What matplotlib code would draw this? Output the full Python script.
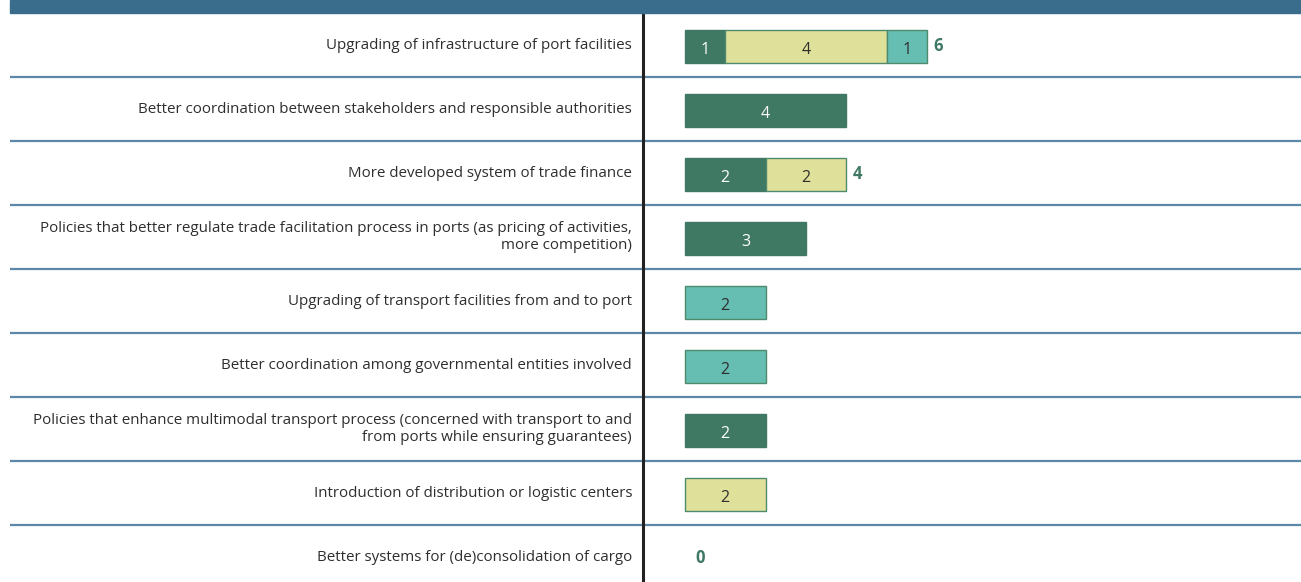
import matplotlib.pyplot as plt
import matplotlib.transforms as mtransforms
import numpy as np

plt.rcParams['font.family'] = ['Open Sans', 'DejaVu Sans']

categories = [
    "Upgrading of infrastructure of port facilities",
    "Better coordination between stakeholders and responsible authorities",
    "More developed system of trade finance",
    "Policies that better regulate trade facilitation process in ports (as pricing of activities,\nmore competition)",
    "Upgrading of transport facilities from and to port",
    "Better coordination among governmental entities involved",
    "Policies that enhance multimodal transport process (concerned with transport to and\nfrom ports while ensuring guarantees)",
    "Introduction of distribution or logistic centers",
    "Better systems for (de)consolidation of cargo",
]
dark = [1, 4, 2, 3, 0, 0, 2, 0, 0]
light = [4, 0, 2, 0, 0, 0, 0, 2, 0]
teal = [1, 0, 0, 0, 2, 2, 0, 0, 0]

series = [
    (dark, '#3f7863', '#3f7863', 'white'),
    (light, '#dfe09a', '#4f8a6e', '#2e2e2e'),
    (teal, '#66bdb2', '#4f8a6e', '#2e2e2e'),
]

W, H = 1301, 582
fig = plt.figure(figsize=(W / 100, H / 100), dpi=100)
ax = fig.add_axes([643 / W, 0, 1 - 643 / W, (H - 13) / H])

y = np.arange(len(categories)) + 0.025
left = np.zeros(len(categories))
for vals, face, edge, tc in series:
    vals = np.array(vals, dtype=float)
    lw = np.where(vals > 0, 1.0, 0.0)
    bars = ax.barh(y, vals, left=left, height=0.52, color=face,
                   edgecolor=edge, linewidth=lw)
    for b, v in zip(bars, vals):
        if v > 0:
            ax.text(b.get_x() + b.get_width() / 2, b.get_y() + b.get_height() / 2 + 0.06,
                    f"{v:g}", ha='center', va='center', color=tc, fontsize=11.5)
    left += vals

# totals for stacked rows and empty rows
counts = (np.array(dark) > 0).astype(int) + (np.array(light) > 0) + (np.array(teal) > 0)
for i, tot in enumerate(left):
    if counts[i] != 1:
        off = 0.15 if tot > 0 else 0.25
        ax.text(tot + off, i + 0.02, f"{tot:g}", ha='left', va='center',
                color='#3f7863', fontsize=12, fontweight='bold')

ax.set_xlim(-1.04, 15.28)
ax.set_ylim(8.39, -0.5)
ax.axis('off')

# category labels right-aligned left of the axis line
lab_tr = mtransforms.blended_transform_factory(fig.transFigure, ax.transData)
for i, c in enumerate(categories):
    ax.text(632 / W, i, c, transform=lab_tr, ha='right', va='center',
            fontsize=10.9, color='#2e2e2e', linespacing=1.15)

# row separators across the full width
for i in range(len(categories) - 1):
    ax.plot([10 / W, 1], [i + 0.5, i + 0.5], transform=lab_tr, color='#5b87a8',
            linewidth=1.6, clip_on=False, solid_capstyle='butt')

# vertical axis line
ax.axvline(-1.04, color='#222222', linewidth=2.2, clip_on=False)

# header band
fig.patches.append(plt.Rectangle((10 / W, (H - 13) / H), 1 - 10 / W, 13 / H,
                                 transform=fig.transFigure, color='#3a6d8c'))

fig.savefig('out.png', dpi=100)
